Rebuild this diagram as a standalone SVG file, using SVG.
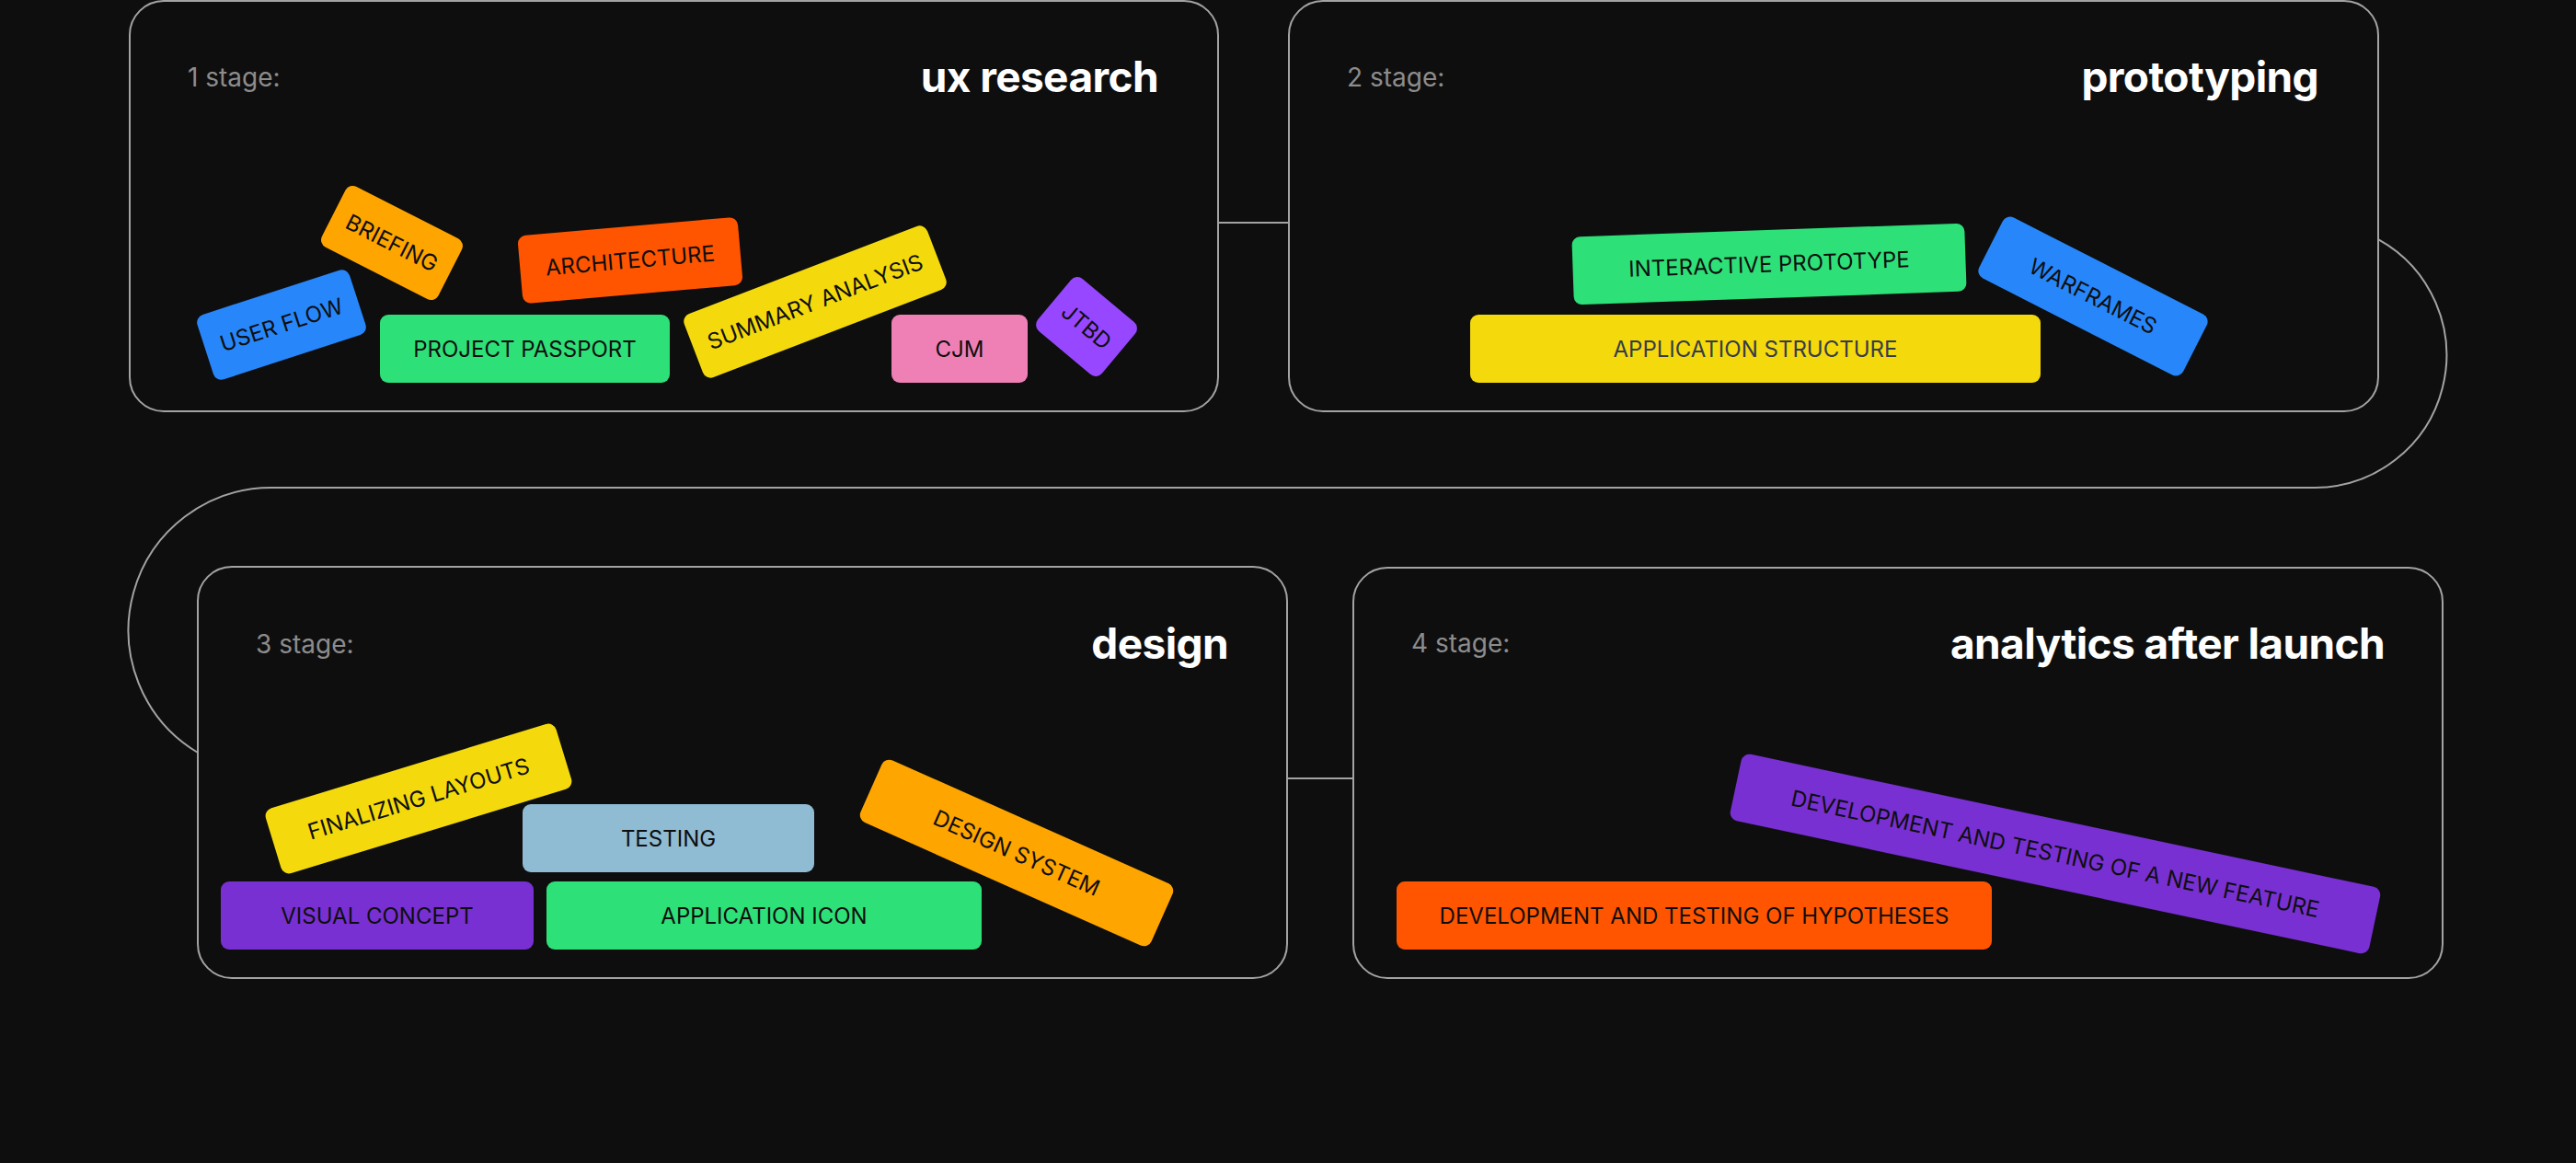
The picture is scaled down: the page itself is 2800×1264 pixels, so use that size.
<svg xmlns="http://www.w3.org/2000/svg" width="2800" height="1264" viewBox="0 0 2800 1264">
  <style>
    .stage { fill: #0e0e0e; stroke: #a3a3a3; stroke-width: 2; }
    .conn { fill: none; stroke: #a3a3a3; stroke-width: 2; }
    .lbl { font-family: Inter, "Liberation Sans", sans-serif; font-size: 28px; fill: #8c8c8c; }
    .ttl { font-family: Inter, "Liberation Sans", sans-serif; font-size: 46px; font-weight: 700; fill: #ffffff; text-anchor: end; letter-spacing: -0.6px; }
    .tag text { font-family: Inter, "Liberation Sans", sans-serif; font-size: 24px; fill: #0e0e0e; text-anchor: middle; }
    .blue { fill: #2787fa; }
    .orange { fill: #ffa500; }
    .red { fill: #ff5500; }
    .green { fill: #2ee078; }
    .yellow { fill: #f4da0c; }
    .pink { fill: #ef80b5; }
    .purple { fill: #9747ff; }
    .violet { fill: #7830d2; }
    .sky { fill: #8fbbd3; }
  </style>
  <rect x="0" y="0" width="2800" height="1264" fill="#0e0e0e"/>

  <g id="connectors">
    <line class="conn" x1="1324" y1="242" x2="1401" y2="242"/>
    <path class="conn" d="M 2585 260 A 144 144 0 0 1 2516 530 L 295 530 A 155 155 0 0 0 215 818"/>
    <line class="conn" x1="1399" y1="846" x2="1471" y2="846"/>
  </g>

  <g id="stage1">
    <rect class="stage" x="141" y="1" width="1183" height="446" rx="37"/>
    <text class="lbl" x="204" y="94">1 stage:</text>
    <text class="ttl" x="1259" y="100">ux research</text>
    <g id="tag-user-flow" class="tag" transform="translate(306 353) rotate(-18)">
      <rect class="blue" x="-87" y="-37" width="174" height="74" rx="9"/>
      <text x="0" y="8.5">USER FLOW</text>
    </g>
    <g id="tag-briefing" class="tag" transform="translate(426 264) rotate(27)">
      <rect class="orange" x="-71" y="-37" width="142" height="74" rx="9"/>
      <text x="0" y="8.5">BRIEFING</text>
    </g>
    <g id="tag-architecture" class="tag" transform="translate(685 283) rotate(-5)">
      <rect class="red" x="-120" y="-37" width="240" height="74" rx="9"/>
      <text x="0" y="8.5">ARCHITECTURE</text>
    </g>
    <g id="tag-project-passport" class="tag" transform="translate(570.5 379)">
      <rect class="green" x="-157.5" y="-37" width="315" height="74" rx="9"/>
      <text x="0" y="8.5">PROJECT PASSPORT</text>
    </g>
    <g id="tag-summary-analysis" class="tag" transform="translate(886 328) rotate(-21)">
      <rect class="yellow" x="-141.5" y="-37" width="283" height="74" rx="9"/>
      <text x="0" y="8.5">SUMMARY ANALYSIS</text>
    </g>
    <g id="tag-cjm" class="tag" transform="translate(1043 379)">
      <rect class="pink" x="-74" y="-37" width="148" height="74" rx="9"/>
      <text x="0" y="8.5">CJM</text>
    </g>
    <g id="tag-jtbd" class="tag" transform="translate(1181 355) rotate(40)">
      <rect class="purple" x="-45.5" y="-37" width="91" height="74" rx="9"/>
      <text x="0" y="8.5">JTBD</text>
    </g>
  </g>

  <g id="stage2">
    <rect class="stage" x="1401" y="1" width="1184" height="446" rx="37"/>
    <text class="lbl" x="1464" y="94">2 stage:</text>
    <text class="ttl" x="2520" y="100">prototyping</text>
    <g id="tag-interactive-prototype" class="tag" transform="translate(1923 287) rotate(-2)">
      <rect class="green" x="-213.5" y="-37" width="427" height="74" rx="9"/>
      <text x="0" y="8.5">INTERACTIVE PROTOTYPE</text>
    </g>
    <g id="tag-warframes" class="tag" transform="translate(2275 322) rotate(27)">
      <rect class="blue" x="-124.5" y="-37" width="249" height="74" rx="9"/>
      <text x="0" y="8.5">WARFRAMES</text>
    </g>
    <g id="tag-application-structure" class="tag" transform="translate(1908 379)">
      <rect class="yellow" x="-310" y="-37" width="620" height="74" rx="9"/>
      <text x="0" y="8.5" style="fill:#363b4a">APPLICATION STRUCTURE</text>
    </g>
  </g>

  <g id="stage3">
    <rect class="stage" x="215" y="616" width="1184" height="447" rx="37"/>
    <text class="lbl" x="278" y="710">3 stage:</text>
    <text class="ttl" x="1335" y="716">design</text>
    <g id="tag-finalizing-layouts" class="tag" transform="translate(455 868) rotate(-17)">
      <rect class="yellow" x="-165" y="-37" width="330" height="74" rx="9"/>
      <text x="0" y="8.5">FINALIZING LAYOUTS</text>
    </g>
    <g id="tag-testing" class="tag" transform="translate(726.5 911)">
      <rect class="sky" x="-158.5" y="-37" width="317" height="74" rx="9"/>
      <text x="0" y="8.5">TESTING</text>
    </g>
    <g id="tag-design-system" class="tag" transform="translate(1105 927) rotate(24)">
      <rect class="orange" x="-173" y="-37" width="346" height="74" rx="9"/>
      <text x="0" y="8.5">DESIGN SYSTEM</text>
    </g>
    <g id="tag-visual-concept" class="tag" transform="translate(410 995)">
      <rect class="violet" x="-170" y="-37" width="340" height="74" rx="9"/>
      <text x="0" y="8.5">VISUAL CONCEPT</text>
    </g>
    <g id="tag-application-icon" class="tag" transform="translate(830.5 995)">
      <rect class="green" x="-236.5" y="-37" width="473" height="74" rx="9"/>
      <text x="0" y="8.5">APPLICATION ICON</text>
    </g>
  </g>

  <g id="stage4">
    <rect class="stage" x="1471" y="617" width="1184" height="446" rx="37"/>
    <text class="lbl" x="1534" y="709">4 stage:</text>
    <text class="ttl" x="2592" y="716">analytics after launch</text>
    <g id="tag-new-feature" class="tag" transform="translate(2234 928) rotate(12)">
      <rect class="violet" x="-355" y="-37" width="710" height="74" rx="9"/>
      <text x="0" y="8.5">DEVELOPMENT AND TESTING OF A NEW FEATURE</text>
    </g>
    <g id="tag-hypotheses" class="tag" transform="translate(1841.5 995)">
      <rect class="red" x="-323.5" y="-37" width="647" height="74" rx="9"/>
      <text x="0" y="8.5">DEVELOPMENT AND TESTING OF HYPOTHESES</text>
    </g>
  </g>
</svg>
